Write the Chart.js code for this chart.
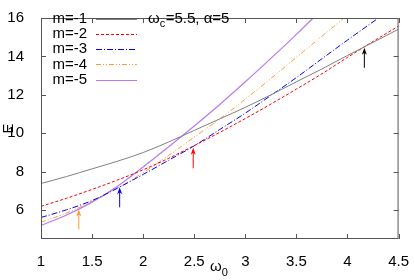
<!DOCTYPE html>
<html lang="en">
<head>
<meta charset="UTF-8">
<title>E vs omega0</title>
<script src="https://cdn.jsdelivr.net/npm/chart.js"></script>
<style>
  body { margin:0; background:#fff; }
  canvas { display:block; }
</style>
</head>
<body>
<canvas id="chart" width="415" height="280"></canvas>
<script>
// values
const omega0 = [1, 1.25, 1.5, 1.75, 2, 2.25, 2.5, 2.75, 3, 3.25, 3.5, 3.75, 4, 4.25, 4.5];
const eM1 = [7.39, 7.75, 8.15, 8.55, 9.0, 9.55, 10.15, 10.75, 11.35, 12.0, 12.68, 13.35, 14.05, 14.73, 15.42];
const eM2 = [6.2, 6.62, 7.08, 7.57, 8.1, 8.7, 9.36, 10.05, 10.77, 11.52, 12.3, 13.1, 13.95, 14.78, 15.58];
const eM3 = [5.62, 6.02, 6.5, 7.15, 7.86, 8.6, 9.35, 10.2, 11.05, 11.97, 12.9, 13.88, 14.85, 15.8, 16.75];
const eM4 = [5.37, 5.85, 6.45, 7.15, 7.95, 8.85, 9.8, 10.75, 11.78, 12.85, 13.95, 15.05, 16.15];
const eM5 = [5.21, 5.75, 6.42, 7.25, 8.25, 9.3, 10.38, 11.5, 12.68, 13.9, 15.15, 16.45];
const labels = ['m=-1', 'm=-2', 'm=-3', 'm=-4', 'm=-5'];
const xTicks = [1, 1.5, 2, 2.5, 3, 3.5, 4, 4.5];
const yTicks = [6, 8, 10, 12, 14, 16];

// arrows: x position, tail and tip energy
const arrowX = [1.37, 1.77, 2.49, 4.165];
const arrowFrom = [5.0, 6.15, 8.18, 13.41];
const arrowTo = [6.03, 7.19, 9.25, 14.45];
const arrowColors = ['#ff9a33', '#0000ff', '#ff0000', '#000000'];

const colors = ['#808080', '#ff0000', '#0000ff', '#ff9a33', '#b57cf2'];
const dashes = [[], [3, 2], [6, 2, 1, 2], [5, 2, 1, 2, 1, 2], []];
const widths = [1, 1, 1, 1, 1.2];
const series = [eM1, eM2, eM3, eM4, eM5];

const FONT = '"Liberation Sans", Arial, sans-serif';

const datasets = series.map((vals, i) => ({
  label: labels[i],
  data: vals.map((v, j) => ({ x: omega0[j], y: v })),
  borderColor: colors[i],
  borderWidth: widths[i],
  borderDash: dashes[i],
  pointRadius: 0,
  fill: false,
  cubicInterpolationMode: 'monotone'
}));

const extras = {
  id: 'extras',
  afterDraw(chart) {
    const ctx = chart.ctx;
    const a = chart.chartArea;
    const xs = chart.scales.x, ys = chart.scales.y;
    ctx.save();

    // frame
    ctx.strokeStyle = '#555';
    ctx.lineWidth = 1;
    ctx.strokeRect(a.left + 0.5, a.top + 0.5, a.right - a.left - 1, a.bottom - a.top - 1);

    // inward ticks on all four sides
    ctx.beginPath();
    xTicks.forEach(v => {
      const px = Math.round(xs.getPixelForValue(v)) + 0.5;
      ctx.moveTo(px, a.bottom); ctx.lineTo(px, a.bottom - 5);
      ctx.moveTo(px, a.top); ctx.lineTo(px, a.top + 5);
    });
    yTicks.forEach(v => {
      const py = Math.round(ys.getPixelForValue(v)) + 0.5;
      ctx.moveTo(a.left, py); ctx.lineTo(a.left + 5, py);
      ctx.moveTo(a.right, py); ctx.lineTo(a.right - 5, py);
    });
    ctx.stroke();

    // arrows
    arrowX.forEach((x, i) => {
      const px = xs.getPixelForValue(x);
      const p0 = ys.getPixelForValue(arrowFrom[i]);
      const p1 = ys.getPixelForValue(arrowTo[i]);
      ctx.strokeStyle = arrowColors[i];
      ctx.fillStyle = arrowColors[i];
      ctx.beginPath();
      ctx.moveTo(px, p0); ctx.lineTo(px, p1 + 3);
      ctx.stroke();
      ctx.beginPath();
      ctx.moveTo(px, p1);
      ctx.lineTo(px - 2.5, p1 + 7);
      ctx.lineTo(px, p1 + 5);
      ctx.lineTo(px + 2.5, p1 + 7);
      ctx.closePath();
      ctx.fill();
    });

    // legend
    ctx.font = '15px ' + FONT;
    ctx.textBaseline = 'middle';
    chart.data.datasets.forEach((ds, i) => {
      const y = 18.5 + i * 15.3;
      ctx.fillStyle = '#000';
      ctx.textAlign = 'right';
      ctx.fillText(ds.label, 87, y);
      ctx.strokeStyle = ds.borderColor;
      ctx.lineWidth = ds.borderWidth;
      ctx.setLineDash(ds.borderDash);
      ctx.beginPath();
      ctx.moveTo(96, Math.round(y) + 0.5);
      ctx.lineTo(137, Math.round(y) + 0.5);
      ctx.stroke();
      ctx.setLineDash([]);
    });
    ctx.lineWidth = 1;

    // parameter note
    ctx.fillStyle = '#000';
    ctx.textAlign = 'left';
    let x = 148;
    ctx.font = '15px ' + FONT;
    ctx.fillText('\u03c9', x, 18.5);
    x += ctx.measureText('\u03c9').width;
    ctx.font = '11px ' + FONT;
    ctx.fillText('c', x, 23.5);
    x += ctx.measureText('c').width + 0.5;
    ctx.font = '15px ' + FONT;
    ctx.fillText('=5.5, \u03b1=5', x, 18.5);

    // axis titles
    ctx.save();
    ctx.translate(9, (a.top + a.bottom) / 2);
    ctx.rotate(-Math.PI / 2);
    ctx.textAlign = 'center';
    ctx.font = '15px ' + FONT;
    ctx.fillText('E', 0, 0);
    ctx.restore();

    ctx.textAlign = 'left';
    ctx.font = '15px ' + FONT;
    const w = ctx.measureText('\u03c9').width;
    const cx = (a.left + a.right) / 2 - 4;
    ctx.fillText('\u03c9', cx - w / 2, 267);
    ctx.font = '11px ' + FONT;
    ctx.fillText('0', cx + w / 2, 273);

    ctx.restore();
  }
};

new Chart(document.getElementById('chart'), {
  type: 'line',
  data: { datasets },
  options: {
    responsive: false,
    animation: false,
    devicePixelRatio: 1,
    layout: { padding: { top: 6, right: 12, left: 0, bottom: 0 } },
    plugins: { legend: { display: false }, tooltip: { enabled: false } },
    scales: {
      x: {
        type: 'linear',
        min: 1,
        max: 4.5,
        afterBuildTicks: s => { s.ticks = xTicks.map(v => ({ value: v })); },
        afterFit: s => { s.height = 41; },
        ticks: { color: '#000', font: { family: FONT, size: 15 }, padding: 6, maxRotation: 0, callback: v => String(v) },
        grid: { display: false },
        border: { display: false }
      },
      y: {
        type: 'linear',
        min: 4.5,
        max: 16,
        afterBuildTicks: s => { s.ticks = yTicks.map(v => ({ value: v })); },
        afterFit: s => { s.width = 41; },
        ticks: { color: '#000', font: { family: FONT, size: 15 }, padding: 9, callback: v => String(v) },
        grid: { display: false },
        border: { display: false }
      }
    }
  },
  plugins: [extras]
});
</script>
</body>
</html>
